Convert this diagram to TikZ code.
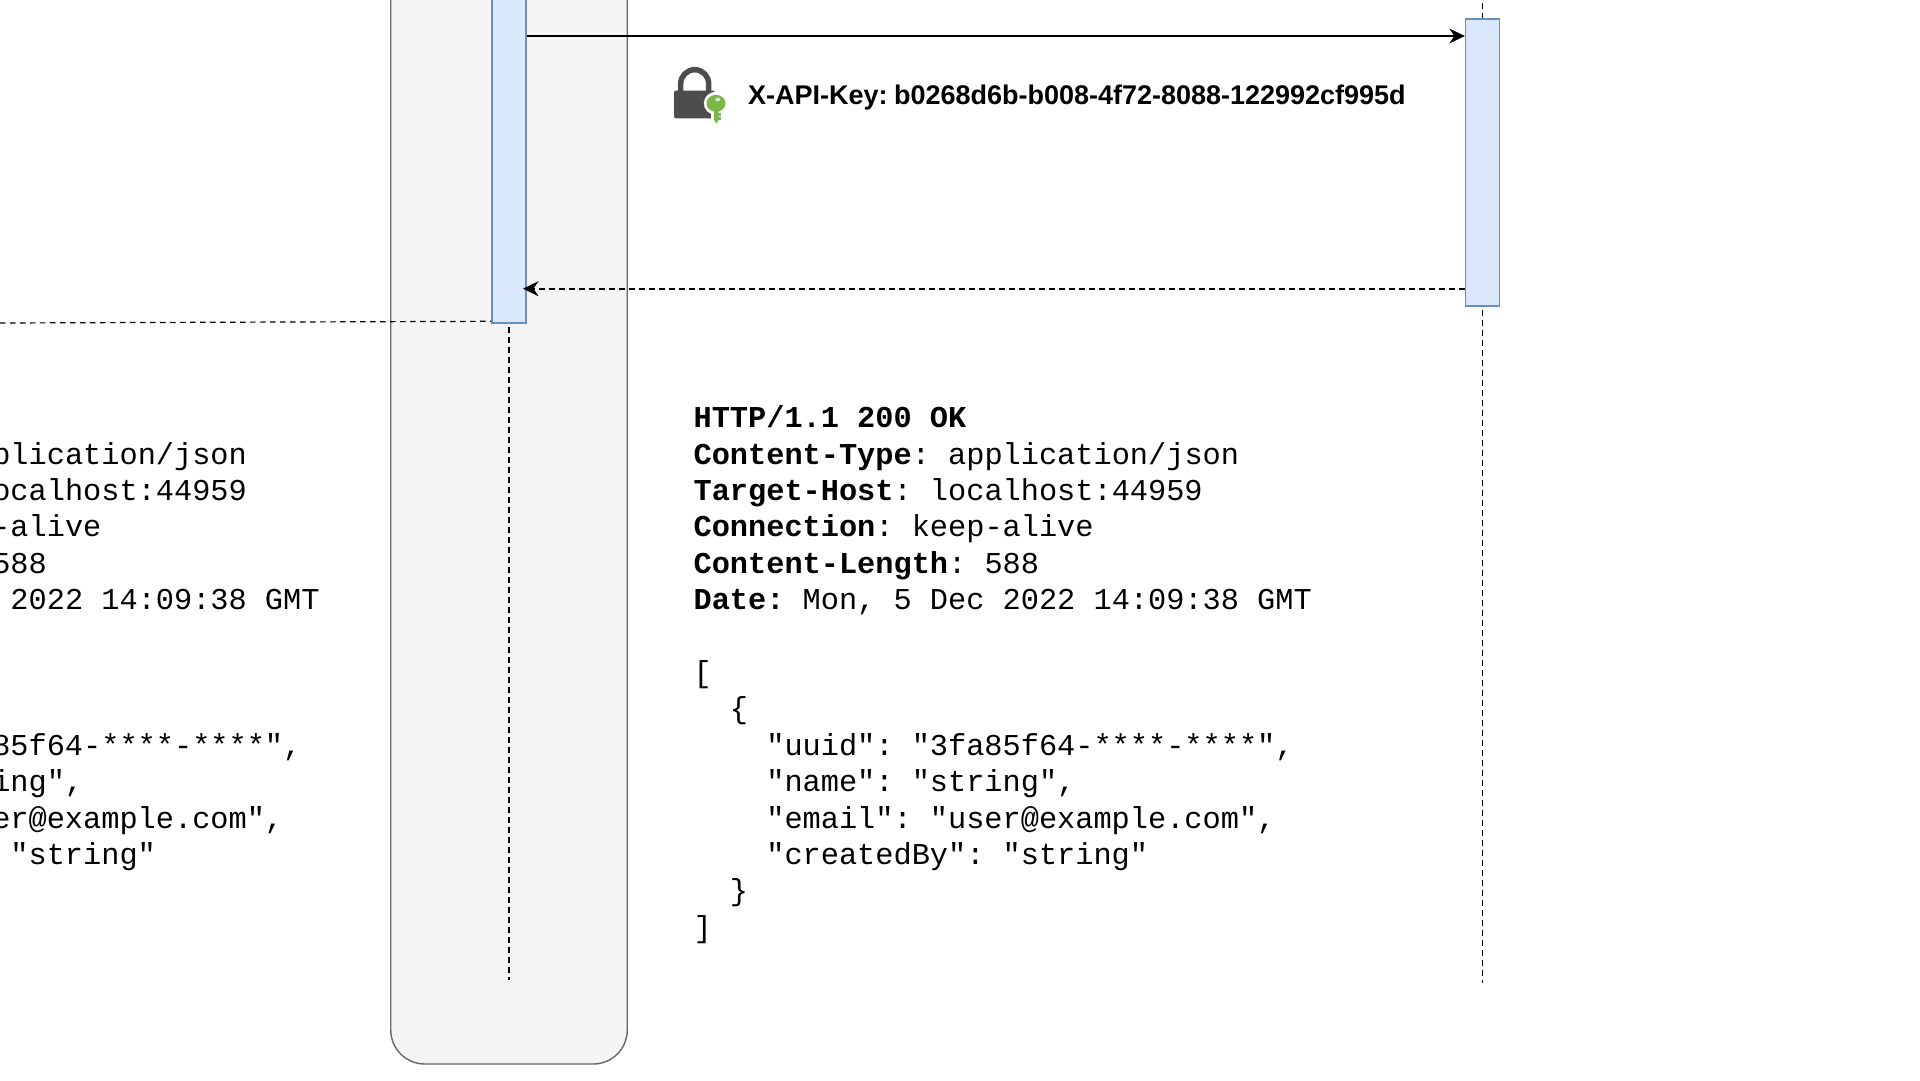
\documentclass[tikz,border=0pt]{standalone}
\usepackage{fontspec}
\setmainfont{Liberation Sans}
\setmonofont{Liberation Mono}
\usetikzlibrary{arrows.meta}

\definecolor{lanefill}{HTML}{F5F5F5}
\definecolor{laneline}{HTML}{666666}
\definecolor{actfill}{HTML}{DAE8FC}
\definecolor{actline}{HTML}{6C8EBF}
\definecolor{lockgray}{HTML}{4D4D4D}
\definecolor{keygreen}{HTML}{7AB648}

\newcommand{\respindent}[1]{\hspace*{#1\dimexpr 18.18pt\relax}}
\newcommand{\resptext}[1]{%
\textbf{HTTP/1.1 200 OK}\\
\textbf{Content-Type}: application/json\\
\respindent{#1}\textbf{Target-Host}: localhost:44959\\
\textbf{Connection}: keep-alive\\
\textbf{Content-Length}: 588\\
\textbf{Date:} Mon, 5 Dec 2022 14:09:38 GMT\\
\mbox{}\\
{[}\\
\respindent{2}\{\\
\respindent{4}"uuid": "3fa85f64-****-****",\\
\respindent{4}"name": "string",\\
\respindent{4}"email": "user@example.com",\\
\respindent{4}"createdBy": "string"\\
\respindent{2}\}\\
{]}}

\tikzset{
  lanebox/.style={draw=laneline, fill=lanefill, line width=1.4pt, rounded corners=34pt,
    inner sep=0pt, minimum width=236.5pt, minimum height=1124pt},
  actbox/.style={draw=actline, fill=actfill, line width=1.4pt, inner sep=0pt, minimum width=34pt},
  lifeline/.style={line width=1.4pt, dash pattern=on 5.5pt off 4.5pt},
  callflow/.style={line width=1.8pt, -{Stealth[length=15.5pt,width=15pt]}},
  replyflow/.style={line width=1.8pt, dash pattern=on 6pt off 4pt, -{Stealth[length=15.5pt,width=15pt]}},
  resptxt/.style={inner sep=0pt, anchor=north west, align=left,
    font=\fontsize{30.3}{36.4}\selectfont\ttfamily\frenchspacing},
  keytxt/.style={inner sep=0pt, anchor=base west, font=\fontsize{27}{32}\selectfont\bfseries}
}

\begin{document}
\begin{tikzpicture}[x=1pt, y=-1pt]
  \useasboundingbox (0,0) rectangle (1920,1080);
  \clip (0,0) rectangle (1920,1080);

  \node[lanebox] (lane) at (509,502) {};

  \node[actbox, minimum height=363pt] (actleft) at (508.8,141.5) {};
  \node[actbox, minimum height=287pt] (actright) at (1482.5,162.5) {};

  \coordinate (lifeleftend) at (508.8,980);
  \coordinate (liferighttop) at (1482.5,3);
  \coordinate (liferightend) at (1482.5,983);
  \coordinate (pageleft) at (0,323);
  \coordinate (pageleftend) at (491,321.3);
  \coordinate (callmark) at (0,36);
  \coordinate (replymark) at (0,288.7);

  \draw[lifeline, dash phase=6.5pt] (actleft.south) -- (lifeleftend);
  \draw[lifeline] (liferighttop) -- (actright.north);
  \draw[lifeline, dash phase=6.5pt] (actright.south) -- (liferightend);
  \draw[lifeline, line width=1.2pt] (pageleft) -- (pageleftend);

  \draw[callflow] (actleft.east |- callmark) -- (actright.west |- callmark);
  \draw[replyflow, shorten >=-3.5pt] (actright.west |- replymark) -- (actleft.east |- replymark);

  \draw[lockgray, line width=5.5pt] (680.7,93) -- (680.7,83.7) arc (180:360:14) -- (708.7,93);
  \fill[lockgray, rounded corners=2pt] (674,90.5) rectangle (715,118.3);
  \fill[white] (715.8,103.3) ellipse (12 and 11.5);
  \fill[white] (711,108) rectangle (723,125);
  \fill[keygreen] (716,103.3) ellipse (9.5 and 8.5);
  \fill[keygreen] (714.2,108) -- (714.2,120) -- (716.5,123.5) -- (718.6,120) -- (718.6,108) -- cycle;
  \fill[keygreen] (718,113) rectangle (720.6,115.5);
  \fill[keygreen] (718,117) rectangle (720.6,119.5);
  \fill[white!70!keygreen] (717.8,99.5) ellipse (2.6 and 1.8);

  \node[keytxt] (apikey) at (748,104.3) {X-API-Key:\hspace{6.3pt}b0268d6b-b008-4f72-8088-122992cf995d};

  \node[resptxt] (respright) at (693.4,405.5) {\resptext{0}};
  \node[resptxt] (respleft) at (-298.8,405.5) {\resptext{2}};
\end{tikzpicture}
\end{document}
